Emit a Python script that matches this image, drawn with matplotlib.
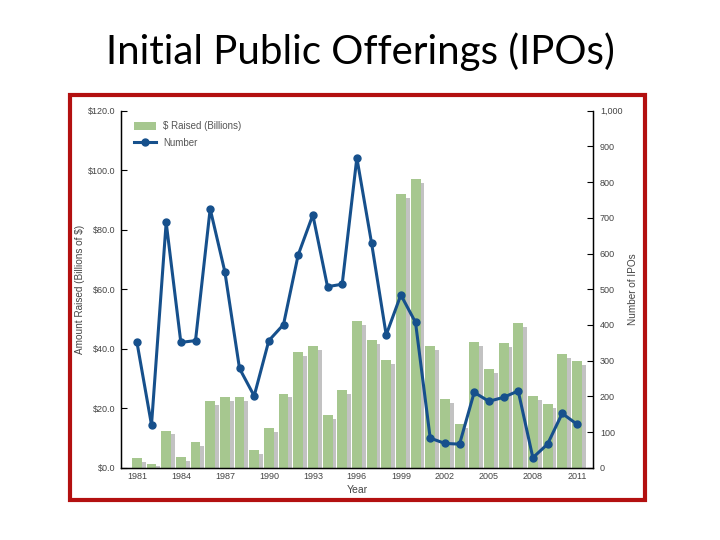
import matplotlib
matplotlib.use("Agg")
import matplotlib.pyplot as plt
from matplotlib.patches import Patch, Rectangle
from matplotlib.lines import Line2D
from matplotlib.ticker import FuncFormatter
import numpy as np

# Datos
years = list(range(1981, 2012))
raised = [3.1, 1.1, 12.5, 3.5, 8.5, 22.3, 23.6, 23.6, 5.8, 13.2, 24.9, 39.0, 41.0,
          17.7, 26.1, 49.2, 42.9, 36.1, 92.1, 96.9, 40.8, 23.0, 14.7, 42.2, 33.1,
          41.8, 48.5, 24.0, 21.4, 38.1, 35.8]
number = [353, 120, 687, 351, 356, 725, 549, 278, 201, 356, 401, 596, 708,
          507, 514, 868, 630, 372, 484, 407, 83, 68, 66, 211, 186, 197, 215,
          28, 66, 152, 122]
xticks = [1981, 1984, 1987, 1990, 1993, 1996, 1999, 2002, 2005, 2008, 2011]

green = "#A6C78F"
grey = "#C2C2C2"
blue = "#16508C"
small = ["Liberation Sans", "DejaVu Sans"]

fig = plt.figure(figsize=(7.2, 5.4), dpi=100)
fig.patch.set_facecolor("white")

# Titulo
fig.text(0.5, 0.905, "Initial Public Offerings (IPOs)", ha="center", va="center",
         fontsize=29, family=["Lato", "DejaVu Sans"], color="black")

# Marco rojo
fig.patches.append(Rectangle((70 / 720, 1 - 500 / 540), 575 / 720, 405 / 540,
                             transform=fig.transFigure, fill=False,
                             edgecolor="#B31010", linewidth=3))

ax = fig.add_axes([120.7 / 720, 1 - 467.7 / 540, 472.3 / 720, 357 / 540])
x = np.array(years)
r = np.array(raised)
shadow = np.maximum(r - 1.3, r * 0.5)
ax.bar(x + 0.27, shadow, width=0.68, color=grey, zorder=1)
ax.bar(x, r, width=0.68, color=green, zorder=2)
ax.set_xlim(1979.9, 2012.1)
ax.set_ylim(0, 120)
ax.set_yticks([0, 20, 40, 60, 80, 100, 120])
ax.yaxis.set_major_formatter(FuncFormatter(lambda v, p: "$%.1f" % v))
ax.set_xticks(xticks)
ax.tick_params(axis="x", length=0, pad=3)
ax.tick_params(axis="y", direction="in", length=4, pad=4)
for lab in ax.get_xticklabels() + ax.get_yticklabels():
    lab.set_family(small)
    lab.set_fontsize(6.5)
    lab.set_color("#444444")
ax.spines["top"].set_visible(False)
for s in ["left", "bottom", "right"]:
    ax.spines[s].set_linewidth(1)
ax.set_ylabel("Amount Raised (Billions of \\$)", family=small, fontsize=7.2,
              color="#444444", labelpad=2)
ax.set_xlabel("Year", family=small, fontsize=7.5, color="#444444", labelpad=3)

ax2 = ax.twinx()
ax2.plot(years, number, color=blue, linewidth=2.2, marker="o", markersize=5)
ax2.set_ylim(0, 1000)
ax2.set_yticks(range(0, 1001, 100))
ax2.yaxis.set_major_formatter(FuncFormatter(lambda v, p: "{:,.0f}".format(v)))
ax2.tick_params(axis="y", direction="in", length=4, pad=5)
for lab in ax2.get_yticklabels():
    lab.set_family(small)
    lab.set_fontsize(6.5)
    lab.set_color("#444444")
ax2.spines["top"].set_visible(False)
ax2.set_ylabel("Number of IPOs", family=small, fontsize=7.2, color="#444444",
               labelpad=4)

handles = [Patch(facecolor=green, edgecolor="none"),
           Line2D([], [], color=blue, linewidth=2.2, marker="o", markersize=5)]
leg = ax2.legend(handles, ["\\$ Raised (Billions)", "Number"], loc="upper left",
                 bbox_to_anchor=(0.01, 0.995), frameon=False, handlelength=2.2,
                 handleheight=0.8, labelspacing=0.7,
                 prop={"family": small, "size": 7})
for t in leg.get_texts():
    t.set_color("#555555")

fig.savefig("out.png", dpi=100)
